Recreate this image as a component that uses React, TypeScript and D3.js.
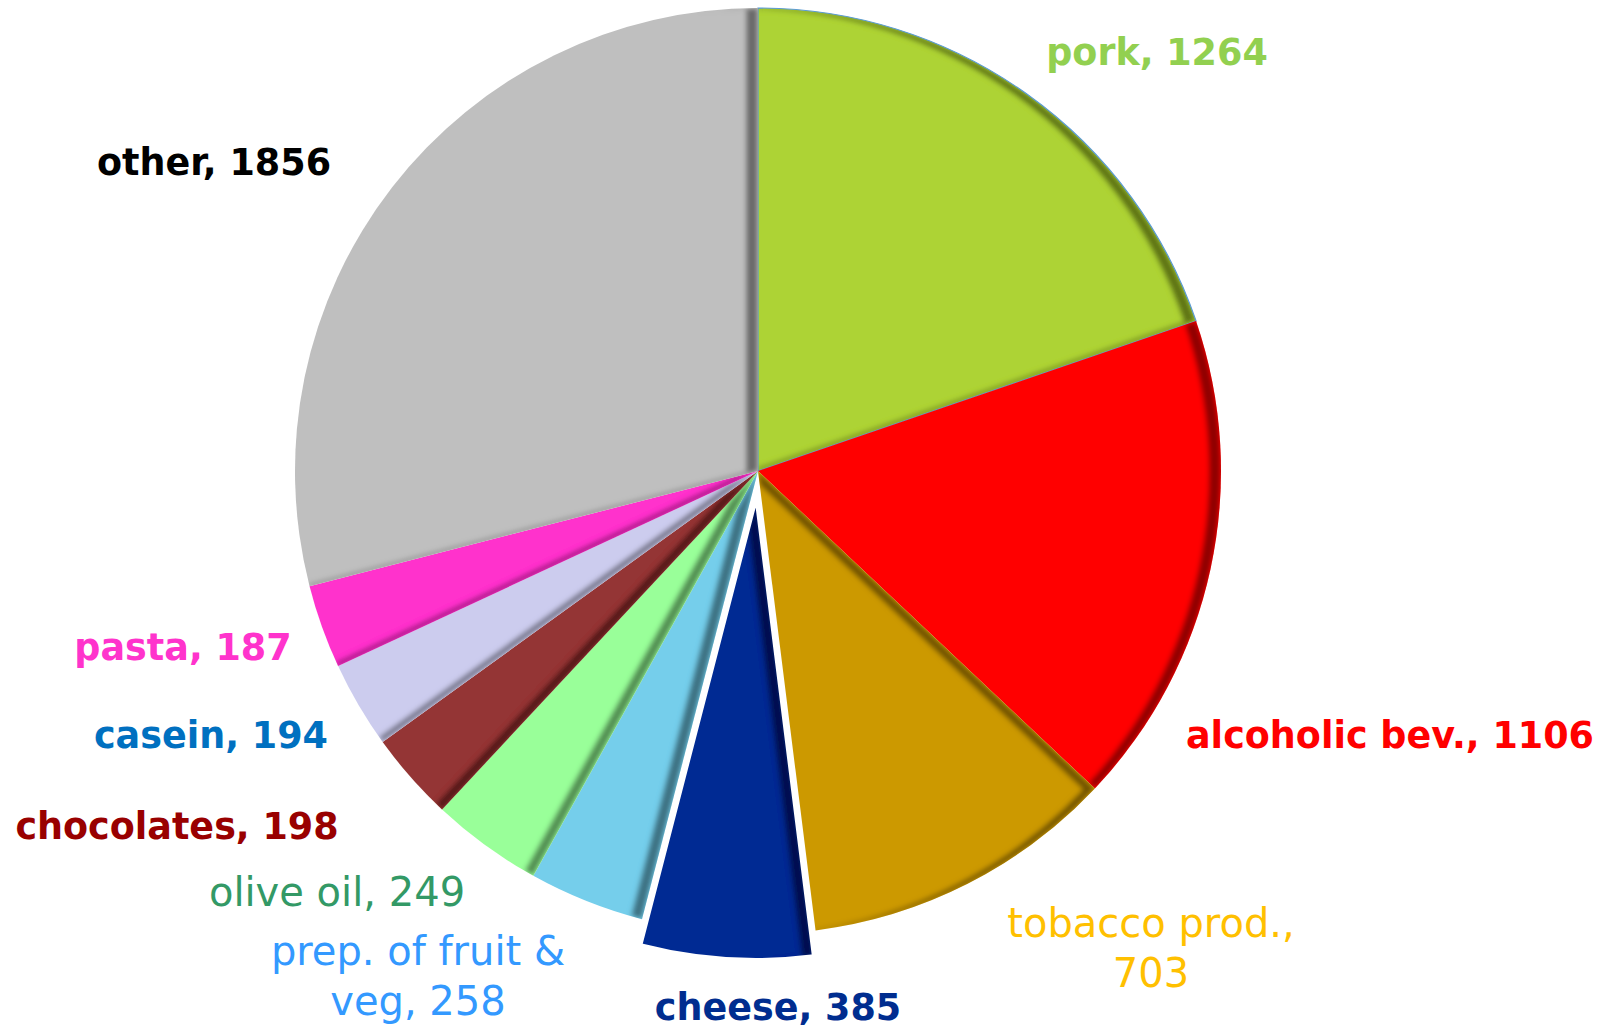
import React, { useEffect, useRef } from 'react';
import * as d3 from 'd3';

// slice order, clockwise from 12 o'clock
const categories = [
  'pork', 'alcoholic bev.', 'tobacco prod.', 'cheese', 'prep. of fruit & veg',
  'olive oil', 'chocolates', 'casein', 'pasta', 'other',
];
const values = [1264, 1106, 703, 385, 258, 249, 198, 194, 187, 1856];

// label lines as shown on the chart
const labelLines = [
  ['pork, 1264'],
  ['alcoholic bev., 1106'],
  ['tobacco prod.,', '703'],
  ['cheese, 385'],
  ['prep. of fruit &', 'veg, 258'],
  ['olive oil, 249'],
  ['chocolates, 198'],
  ['casein, 194'],
  ['pasta, 187'],
  ['other, 1856'],
];

const sliceColors = ['#ADD334', '#FF0000', '#CC9900', '#032A93', '#75CEEB', '#99FF99', '#943634', '#CCCCEE', '#FF33CC', '#BFBFBF'];
const labelColors = ['#92D050', '#FF0000', '#FFC000', '#002D8F', '#3399FF', '#339966', '#990000', '#0070C0', '#FF33CC', '#000000'];
const boldLabels = [true, true, false, true, false, false, true, true, true, true];

// layout: label anchor (centre x, first baseline y)
const labelPos: [number, number][] = [
  [1157, 65], [1390, 748], [1151, 937], [778, 1020], [418, 965],
  [337, 906], [177, 839], [211, 748], [183, 660], [214, 175],
];

const WIDTH = 1615;
const HEIGHT = 1028;

export default function App() {
  const svgRef = useRef<SVGSVGElement>(null);

  useEffect(() => {
    if (!svgRef.current) return;
    const svg = d3.select(svgRef.current);
    svg.selectAll('*').remove();

    const cx = 758, cy = 471, radius = 463;
    const explode = 26;

    // inner shade along the right-facing edges of each slice
    const defs = svg.append('defs');
    const f = defs.append('filter').attr('id', 'innerShade')
      .attr('x', '-10%').attr('y', '-10%').attr('width', '120%').attr('height', '120%');
    f.append('feOffset').attr('in', 'SourceAlpha').attr('dx', -12).attr('dy', 1).attr('result', 'off');
    f.append('feComposite').attr('in', 'SourceAlpha').attr('in2', 'off').attr('operator', 'out').attr('result', 'edge');
    f.append('feGaussianBlur').attr('in', 'edge').attr('stdDeviation', 2.5).attr('result', 'blur');
    f.append('feComposite').attr('in', 'blur').attr('in2', 'SourceAlpha').attr('operator', 'in').attr('result', 'inner');
    f.append('feFlood').attr('flood-color', '#000').attr('flood-opacity', 0.72).attr('result', 'flood');
    f.append('feComposite').attr('in', 'flood').attr('in2', 'inner').attr('operator', 'in').attr('result', 'shadow');
    const merge = f.append('feMerge');
    merge.append('feMergeNode').attr('in', 'SourceGraphic');
    merge.append('feMergeNode').attr('in', 'shadow');

    const pie = d3.pie<number>().sort(null).value(d => d)(values);
    const arc = d3.arc<d3.PieArcDatum<number>>().innerRadius(0).outerRadius(radius);

    const g = svg.append('g').attr('transform', `translate(${cx},${cy})`);

    const offsetOf = (d: d3.PieArcDatum<number>) => {
      if (categories[d.index] !== 'cheese') return [0, 0];
      const a = (d.startAngle + d.endAngle) / 2;
      return [Math.sin(a) * explode, -Math.cos(a) * explode];
    };

    const slices = g.selectAll('g.slice')
      .data(pie)
      .enter()
      .append('g')
      .attr('class', 'slice')
      .attr('transform', d => { const [dx, dy] = offsetOf(d); return `translate(${dx},${dy})`; });

    slices.append('path')
      .attr('d', arc)
      .attr('fill', d => sliceColors[d.index])
      .attr('filter', 'url(#innerShade)');

    // pork keeps the thin default border, cheese is outlined in white
    slices.filter(d => categories[d.index] === 'pork')
      .append('path')
      .attr('d', arc)
      .attr('fill', 'none')
      .attr('stroke', '#5B9BD5')
      .attr('stroke-width', 1.2);

    slices.filter(d => categories[d.index] === 'cheese')
      .raise()
      .append('path')
      .attr('d', arc)
      .attr('fill', 'none')
      .attr('stroke', '#FFFFFF')
      .attr('stroke-width', 4)
      .attr('stroke-linejoin', 'miter');

    // labels
    const labels = svg.append('g')
      .attr('font-family', '"DejaVu Sans", sans-serif')
      .attr('text-anchor', 'middle');

    labelLines.forEach((lines, i) => {
      const [lx, ly] = labelPos[i];
      const t = labels.append('text')
        .attr('x', lx)
        .attr('y', ly)
        .attr('fill', labelColors[i])
        .attr('font-size', boldLabels[i] ? 36.5 : 40)
        .attr('font-weight', boldLabels[i] ? 'bold' : 'normal');
      lines.forEach((line, k) => {
        t.append('tspan')
          .attr('x', lx)
          .attr('dy', k === 0 ? 0 : 50)
          .text(line);
      });
    });
  }, []);

  return (
    <div style={{ position: 'absolute', left: 0, top: 0, width: WIDTH, height: HEIGHT, background: '#fff' }}>
      <svg ref={svgRef} width={WIDTH} height={HEIGHT} />
    </div>
  );
}
